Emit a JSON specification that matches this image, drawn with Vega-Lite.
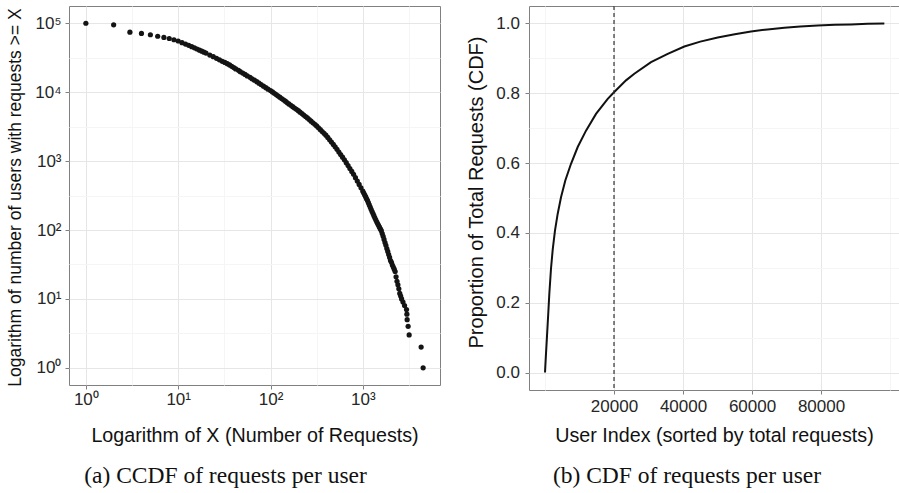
{
  "$schema": "https://vega.github.io/schema/vega-lite/v6.json",
  "background": "white",
  "padding": {"left": 5, "top": 4, "right": 0, "bottom": 0},
  "bounds": "flush",
  "spacing": 89,
  "config": {
    "view": {"stroke": "#808080", "strokeWidth": 1},
    "axis": {
      "domain": false,
      "labelFont": "Liberation Sans",
      "titleFont": "Liberation Sans",
      "labelColor": "#262626",
      "titleColor": "#111111",
      "titleFontWeight": "normal",
      "tickColor": "#808080",
      "tickSize": 4,
      "labelFontSize": 17,
      "labelOverlap": false,
      "labelFlush": false,
      "gridWidth": 1
    }
  },
  "datasets": {
    "ccdf": [
      {"requests": 1, "users": 100800}, {"requests": 2, "users": 95700}, {"requests": 3, "users": 74800},
      {"requests": 4, "users": 71600}, {"requests": 5, "users": 68600}, {"requests": 6, "users": 65300},
      {"requests": 7, "users": 62700}, {"requests": 8, "users": 60500}, {"requests": 9, "users": 58000},
      {"requests": 10, "users": 55700}, {"requests": 11, "users": 52700}, {"requests": 12, "users": 50200},
      {"requests": 13, "users": 48100}, {"requests": 14, "users": 46000}, {"requests": 15, "users": 44300},
      {"requests": 16, "users": 42600}, {"requests": 17, "users": 41000}, {"requests": 18, "users": 39600},
      {"requests": 19, "users": 38300}, {"requests": 20, "users": 37150}, {"requests": 22, "users": 34800},
      {"requests": 24, "users": 33000}, {"requests": 26, "users": 31200}, {"requests": 28, "users": 29650},
      {"requests": 30, "users": 28250}, {"requests": 32, "users": 27200}, {"requests": 34, "users": 26100},
      {"requests": 36, "users": 25000}, {"requests": 38, "users": 23900}, {"requests": 40, "users": 22900},
      {"requests": 42, "users": 21900}, {"requests": 45, "users": 20900}, {"requests": 47, "users": 19950},
      {"requests": 50, "users": 19050}, {"requests": 53, "users": 18200}, {"requests": 56, "users": 17300},
      {"requests": 60, "users": 16500}, {"requests": 63, "users": 15700}, {"requests": 67, "users": 15000},
      {"requests": 71, "users": 14300}, {"requests": 75, "users": 13600}, {"requests": 79, "users": 12970},
      {"requests": 84, "users": 12300}, {"requests": 89, "users": 11700}, {"requests": 94, "users": 11100},
      {"requests": 100, "users": 10600}, {"requests": 105, "users": 10140}, {"requests": 110, "users": 9705},
      {"requests": 115, "users": 9290}, {"requests": 120, "users": 8890}, {"requests": 126, "users": 8510},
      {"requests": 132, "users": 8135}, {"requests": 138, "users": 7776}, {"requests": 145, "users": 7432},
      {"requests": 151, "users": 7104}, {"requests": 158, "users": 6792}, {"requests": 166, "users": 6490},
      {"requests": 174, "users": 6200}, {"requests": 182, "users": 5924}, {"requests": 191, "users": 5660},
      {"requests": 200, "users": 5408}, {"requests": 209, "users": 5152}, {"requests": 219, "users": 4909},
      {"requests": 229, "users": 4677}, {"requests": 240, "users": 4457}, {"requests": 251, "users": 4246},
      {"requests": 263, "users": 4025}, {"requests": 275, "users": 3816}, {"requests": 288, "users": 3617},
      {"requests": 302, "users": 3429}, {"requests": 316, "users": 3251}, {"requests": 331, "users": 3056},
      {"requests": 347, "users": 2873}, {"requests": 363, "users": 2701}, {"requests": 380, "users": 2540},
      {"requests": 398, "users": 2388}, {"requests": 417, "users": 2211}, {"requests": 437, "users": 2046},
      {"requests": 457, "users": 1893}, {"requests": 479, "users": 1752}, {"requests": 501, "users": 1622},
      {"requests": 525, "users": 1486}, {"requests": 550, "users": 1361}, {"requests": 575, "users": 1247},
      {"requests": 603, "users": 1143}, {"requests": 631, "users": 1047}, {"requests": 661, "users": 951},
      {"requests": 692, "users": 863}, {"requests": 724, "users": 783}, {"requests": 759, "users": 711},
      {"requests": 794, "users": 646}, {"requests": 832, "users": 577}, {"requests": 871, "users": 515},
      {"requests": 912, "users": 460}, {"requests": 955, "users": 411}, {"requests": 1000, "users": 367},
      {"requests": 1023, "users": 345}, {"requests": 1047, "users": 324}, {"requests": 1072, "users": 305},
      {"requests": 1096, "users": 286}, {"requests": 1122, "users": 269}, {"requests": 1148, "users": 250},
      {"requests": 1175, "users": 232}, {"requests": 1202, "users": 216}, {"requests": 1230, "users": 200},
      {"requests": 1259, "users": 186}, {"requests": 1288, "users": 174}, {"requests": 1318, "users": 162},
      {"requests": 1349, "users": 151}, {"requests": 1380, "users": 141}, {"requests": 1413, "users": 132},
      {"requests": 1445, "users": 124}, {"requests": 1479, "users": 117}, {"requests": 1514, "users": 110},
      {"requests": 1549, "users": 104}, {"requests": 1585, "users": 98}, {"requests": 1622, "users": 89},
      {"requests": 1660, "users": 81}, {"requests": 1698, "users": 73}, {"requests": 1738, "users": 66},
      {"requests": 1778, "users": 60}, {"requests": 1820, "users": 54}, {"requests": 1862, "users": 49},
      {"requests": 1905, "users": 44}, {"requests": 1950, "users": 40}, {"requests": 1995, "users": 36},
      {"requests": 2042, "users": 34}, {"requests": 2089, "users": 31}, {"requests": 2138, "users": 29},
      {"requests": 2188, "users": 27}, {"requests": 2239, "users": 25}, {"requests": 2291, "users": 21},
      {"requests": 2344, "users": 18}, {"requests": 2399, "users": 16}, {"requests": 2455, "users": 14},
      {"requests": 2512, "users": 12}, {"requests": 2570, "users": 11}, {"requests": 2630, "users": 10},
      {"requests": 2723, "users": 9}, {"requests": 2831, "users": 8}, {"requests": 2973, "users": 7},
      {"requests": 2998, "users": 6}, {"requests": 3020, "users": 5}, {"requests": 3095, "users": 4},
      {"requests": 3174, "users": 3}, {"requests": 4281, "users": 2}, {"requests": 4498, "users": 1}
    ],
    "cdf": [
      {"user_index": 1, "cum_prop": 0.0}, {"user_index": 100, "cum_prop": 0.02}, {"user_index": 290, "cum_prop": 0.055},
      {"user_index": 580, "cum_prop": 0.105}, {"user_index": 957, "cum_prop": 0.172}, {"user_index": 1246, "cum_prop": 0.225},
      {"user_index": 1739, "cum_prop": 0.298}, {"user_index": 2232, "cum_prop": 0.352}, {"user_index": 2899, "cum_prop": 0.407},
      {"user_index": 3681, "cum_prop": 0.455}, {"user_index": 4638, "cum_prop": 0.502}, {"user_index": 5884, "cum_prop": 0.55},
      {"user_index": 7536, "cum_prop": 0.598}, {"user_index": 9478, "cum_prop": 0.646}, {"user_index": 11884, "cum_prop": 0.693},
      {"user_index": 14783, "cum_prop": 0.741}, {"user_index": 18174, "cum_prop": 0.784}, {"user_index": 20000, "cum_prop": 0.803},
      {"user_index": 23478, "cum_prop": 0.837}, {"user_index": 25884, "cum_prop": 0.856}, {"user_index": 30725, "cum_prop": 0.889},
      {"user_index": 35565, "cum_prop": 0.913}, {"user_index": 40377, "cum_prop": 0.934}, {"user_index": 45000, "cum_prop": 0.948},
      {"user_index": 50058, "cum_prop": 0.96}, {"user_index": 55000, "cum_prop": 0.969}, {"user_index": 59710, "cum_prop": 0.977},
      {"user_index": 64500, "cum_prop": 0.983}, {"user_index": 69364, "cum_prop": 0.988}, {"user_index": 74000, "cum_prop": 0.991},
      {"user_index": 79046, "cum_prop": 0.994}, {"user_index": 84000, "cum_prop": 0.996}, {"user_index": 88696, "cum_prop": 0.997},
      {"user_index": 93500, "cum_prop": 0.999}, {"user_index": 98350, "cum_prop": 1.0}
    ],
    "cut": [{"user_index": 20000}]
  },
  "hconcat": [
    {
      "width": 371,
      "height": 379,
      "title": {
        "text": "(a) CCDF of requests per user",
        "orient": "bottom",
        "anchor": "middle",
        "frame": "group",
        "dx": -29,
        "offset": 38,
        "font": "Liberation Serif",
        "fontSize": 23.5,
        "fontWeight": "normal",
        "color": "#111111",
        "baseline": "alphabetic"
      },
      "data": {"name": "ccdf"},
      "mark": {"type": "circle", "size": 27, "color": "#141414", "opacity": 1},
      "encoding": {
        "x": {
          "field": "requests",
          "type": "quantitative",
          "scale": {"type": "log", "domain": [0.6567, 6852], "nice": false},
          "axis": {
            "title": "Logarithm of X (Number of Requests)",
            "titleFontSize": 19.7,
            "titleBaseline": "alphabetic",
            "titleX": 185.5,
            "titleY": 56.7,
            "values": [1, 3.1623, 10, 31.623, 100, 316.23, 1000, 3162.3],
            "labelExpr": "datum.value == 1 ? '10⁰' : datum.value == 10 ? '10¹' : datum.value == 100 ? '10²' : datum.value == 1000 ? '10³' : ''",
            "labelPadding": 2.5,
            "gridColor": {"condition": {"test": "indexof([1,10,100,1000], datum.value) >= 0", "value": "#e6e6e6"}, "value": "#f5f5f5"},
            "tickOpacity": {"condition": {"test": "indexof([1,10,100,1000], datum.value) >= 0", "value": 1}, "value": 0}
          }
        },
        "y": {
          "field": "users",
          "type": "quantitative",
          "scale": {"type": "log", "domain": [0.5622, 179400], "nice": false},
          "axis": {
            "title": "Logarithm of number of users with requests >= X",
            "titleFontSize": 17.5,
            "titleBaseline": "alphabetic",
            "titleX": -49,
            "titleY": 191,
            "values": [1, 3.1623, 10, 31.623, 100, 316.23, 1000, 3162.3, 10000, 31623, 100000],
            "labelExpr": "datum.value == 1 ? '10⁰' : datum.value == 10 ? '10¹' : datum.value == 100 ? '10²' : datum.value == 1000 ? '10³' : datum.value == 10000 ? '10⁴' : datum.value == 100000 ? '10⁵' : ''",
            "labelPadding": 4,
            "gridColor": {"condition": {"test": "indexof([1,10,100,1000,10000,100000], datum.value) >= 0", "value": "#e6e6e6"}, "value": "#f5f5f5"},
            "tickOpacity": {"condition": {"test": "indexof([1,10,100,1000,10000,100000], datum.value) >= 0", "value": 1}, "value": 0}
          }
        }
      }
    },
    {
      "width": 370,
      "height": 384,
      "title": {
        "text": "(b) CDF of requests per user",
        "orient": "bottom",
        "anchor": "middle",
        "frame": "group",
        "dx": -27,
        "offset": 38,
        "font": "Liberation Serif",
        "fontSize": 23.5,
        "fontWeight": "normal",
        "color": "#111111",
        "baseline": "alphabetic"
      },
      "layer": [
        {
          "data": {"name": "cdf"},
          "mark": {"type": "line", "color": "#111111", "strokeWidth": 2},
          "encoding": {
            "x": {
              "field": "user_index",
              "type": "quantitative",
              "scale": {"domain": [-4640, 102600], "nice": false, "zero": false},
              "axis": {
                "title": "User Index (sorted by total requests)",
                "titleFontSize": 19.7,
                "titleBaseline": "alphabetic",
                "titleX": 185,
                "titleY": 51.7,
                "values": [0, 10000, 20000, 30000, 40000, 50000, 60000, 70000, 80000, 90000, 100000],
                "labelExpr": "(datum.value >= 20000 && datum.value <= 80000 && datum.value % 20000 == 0) ? format(datum.value, 'd') : ''",
                "labelPadding": 4,
                "gridColor": {"condition": {"test": "datum.value >= 20000 && datum.value <= 80000 && datum.value % 20000 == 0", "value": "#e6e6e6"}, "value": "#f5f5f5"},
                "tickOpacity": {"condition": {"test": "datum.value >= 20000 && datum.value <= 80000 && datum.value % 20000 == 0", "value": 1}, "value": 0}
              }
            },
            "y": {
              "field": "cum_prop",
              "type": "quantitative",
              "scale": {"domain": [-0.05, 1.05], "nice": false, "zero": false},
              "axis": {
                "title": "Proportion of Total Requests (CDF)",
                "titleFontSize": 20,
                "titleBaseline": "alphabetic",
                "titleX": -46.5,
                "titleY": 186,
                "values": [0, 0.1, 0.2, 0.3, 0.4, 0.5, 0.6, 0.7, 0.8, 0.9, 1.0],
                "labelExpr": "round(datum.value * 10) % 2 == 0 ? format(datum.value, '.1f') : ''",
                "labelPadding": 5.5,
                "gridColor": {"condition": {"test": "round(datum.value * 10) % 2 == 0", "value": "#e6e6e6"}, "value": "#f5f5f5"},
                "tickOpacity": {"condition": {"test": "round(datum.value * 10) % 2 == 0", "value": 1}, "value": 0}
              }
            }
          }
        },
        {
          "data": {"name": "cut"},
          "mark": {"type": "rule", "color": "#333333", "strokeDash": [4, 3], "strokeWidth": 1.2},
          "encoding": {
            "x": {"field": "user_index", "type": "quantitative"}
          }
        }
      ]
    }
  ]
}
